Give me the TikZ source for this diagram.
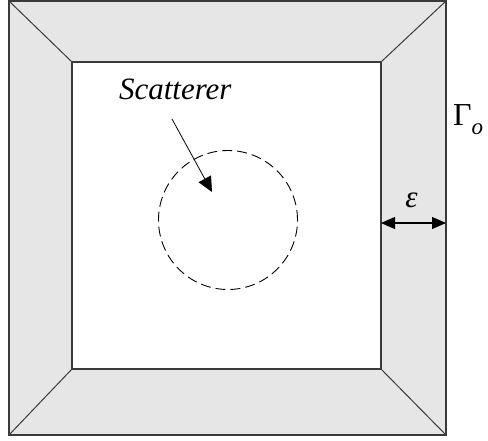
\documentclass[tikz,border=0pt]{standalone}
\usepackage{fontspec}
\setmainfont{Liberation Serif}
\usetikzlibrary{arrows.meta}
\definecolor{pml}{HTML}{E6E6E6}
\definecolor{edge}{HTML}{3A3A3A}
\tikzset{
  frame/.style={draw=edge, line width=1.5pt},
  diag/.style={draw=edge, line width=1pt},
  scat/.style={draw=black, line width=0.9pt, dash pattern=on 10pt off 5pt},
  pointer/.style={draw=black, line width=0.8pt, -{Triangle[length=15pt,width=14pt]}},
  dimarrow/.style={draw=black, line width=1.1pt, {Triangle[length=14pt,width=12pt]}-{Triangle[length=14pt,width=12pt]}},
  lbl/.style={inner sep=0pt, outer sep=0pt}
}
\begin{document}
\begin{tikzpicture}[x=1pt,y=-1pt]
\useasboundingbox (0,0) rectangle (488,441);
% corners
\coordinate (o1) at (9,1);
\coordinate (o2) at (446,1);
\coordinate (o3) at (446,435);
\coordinate (o4) at (9,435);
\coordinate (i1) at (72,62);
\coordinate (i2) at (381,62);
\coordinate (i3) at (381,369);
\coordinate (i4) at (72,369);
% layer fill
\fill[pml] (o1) -- (o2) -- (o3) -- (o4) -- cycle;
\fill[white] (i1) -- (i2) -- (i3) -- (i4) -- cycle;
% diagonals
\draw[diag] (o1) -- (i1);
\draw[diag] (o2) -- (i2);
\draw[diag] (o3) -- (i3);
\draw[diag] (o4) -- (i4);
% frames
\draw[frame] (o1) -- (o2) -- (o3) -- (o4) -- cycle;
\draw[frame] (i1) -- (i2) -- (i3) -- (i4) -- cycle;
% scatterer
\node[scat, circle, minimum size=139pt, inner sep=0pt] (sc) at (228,220) {};
\node[lbl, anchor=base west] (st) at (119,100) {\fontsize{31}{31}\selectfont\itshape Scatterer};
\coordinate (tail) at (172,119);
\coordinate (tip) at (212,192);
\draw[pointer] (tail) -- (tip);
% epsilon
\coordinate (ea) at (381,223);
\coordinate (eb) at (446,223);
\draw[dimarrow] (ea) -- (eb);
\node[lbl, anchor=base] (eps) at (411.5,208) {\fontsize{31}{31}\selectfont\itshape ε};
% Gamma_o
\node[lbl, anchor=base west] (gam) at (453,126) {\fontsize{32}{32}\selectfont Γ\raisebox{-9pt}{\fontsize{23}{23}\selectfont\itshape o}};
\end{tikzpicture}
\end{document}
